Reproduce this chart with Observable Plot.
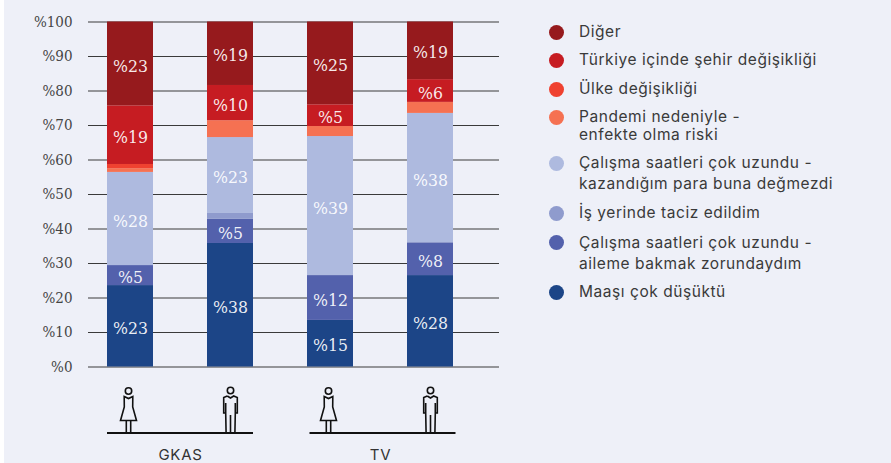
<!DOCTYPE html>
<html lang="tr">
<head>
<meta charset="utf-8">
<script src="https://cdn.jsdelivr.net/npm/d3@7"></script>
<script src="https://cdn.jsdelivr.net/npm/@observablehq/plot@0.6"></script>
<style>
html,body{margin:0;padding:0;background:#fff;overflow:hidden;width:891px;height:463px}
#bg{position:absolute;left:4px;top:0;right:0;bottom:0;background:#eef0f8}
#chart{position:absolute;left:0;top:0}
#legend{position:absolute;left:549px;top:21.5px;font-family:Inter,"Noto Sans",sans-serif;font-size:15.5px;letter-spacing:.55px;color:#3a3a3a}
.item{display:flex;align-items:flex-start;margin-bottom:9px;line-height:20px}
.swatch{flex:none;width:15px;height:15px;border-radius:50%;margin-top:3px;margin-right:15px}
</style>
</head>
<body>
<div id="bg"></div>
<div id="chart"></div>
<div id="legend"></div>
<script>
const bars = ["GKAS Kadın", "GKAS Erkek", "TV Kadın", "TV Erkek"];
const groups = ["GKAS", "TV"];
const women = ["GKAS Kadın", "TV Kadın"];
const men = ["GKAS Erkek", "TV Erkek"];

// stack order: bottom to top
const seriesNames = [
  "Maaşı çok düşüktü",
  "Çalışma saatleri çok uzundu - aileme bakmak zorundaydım",
  "İş yerinde taciz edildim",
  "Çalışma saatleri çok uzundu - kazandığım para buna değmezdi",
  "Pandemi nedeniyle - enfekte olma riski",
  "Ülke değişikliği",
  "Türkiye içinde şehir değişikliği",
  "Diğer"
];
const seriesColors = ["#1c4587", "#5361ac", "#8f9bcd", "#aebadf", "#f57152", "#ef4130", "#c61c22", "#961a1d"];

const maas     = [23.6, 35.8, 13.5, 26.5];
const aile     = [5.8, 7, 13, 9.5];
const taciz    = [0, 1.7, 0, 0];
const kazanc   = [27, 22, 40.3, 37.5];
const pandemi  = [1.1, 4.9, 2.9, 3.2];
const ulke     = [1.2, 0, 0, 0];
const sehir    = [17, 10.2, 6.3, 6.6];
const diger    = [24.3, 18.4, 24, 16.7];

const maasLabels    = ["%23", "%38", "%15", "%28"];
const aileLabels    = ["%5", "%5", "%12", "%8"];
const tacizLabels   = ["", "", "", ""];
const kazancLabels  = ["%28", "%23", "%39", "%38"];
const pandemiLabels = ["", "", "", ""];
const ulkeLabels    = ["", "", "", ""];
const sehirLabels   = ["%19", "%10", "%5", "%6"];
const digerLabels   = ["%23", "%19", "%25", "%19"];

const yTicks = [0, 10, 20, 30, 40, 50, 60, 70, 80, 90, 100];

const seriesValues = [maas, aile, taciz, kazanc, pandemi, ulke, sehir, diger];
const seriesLabels = [maasLabels, aileLabels, tacizLabels, kazancLabels, pandemiLabels, ulkeLabels, sehirLabels, digerLabels];

const rows = seriesNames.flatMap((s, i) =>
  bars.map((b, j) => ({bar: b, series: s, value: seriesValues[i][j], label: seriesLabels[i][j]}))
);

// pictogram symbols for the gender row
const womanSymbol = {
  draw(c) {
    c.moveTo(3.2, -19); c.arc(0, -19, 3.2, 0, 2 * Math.PI);
    c.moveTo(-2.2, 23); c.lineTo(-2.2, 11); c.moveTo(2.2, 23); c.lineTo(2.2, 11);
    c.moveTo(-4.3, -13.5); c.lineTo(0, -11.5); c.lineTo(4.3, -13.5);
    c.lineTo(4.2, -3); c.lineTo(8, 10.5); c.lineTo(-8, 10.5); c.lineTo(-4.2, -3); c.closePath();
  }
};
const manSymbol = {
  draw(c) {
    c.moveTo(3.2, -19.5); c.arc(0, -19.5, 3.2, 0, 2 * Math.PI);
    c.moveTo(-3.2, -14); c.lineTo(0, -12); c.lineTo(3.2, -14);
    c.lineTo(6.8, -12.5); c.lineTo(6.8, 3); c.lineTo(4.8, 3);
    c.lineTo(4.4, 23); c.moveTo(-4.4, 23); c.lineTo(-4.8, 3);
    c.lineTo(-6.8, 3); c.lineTo(-6.8, -12.5); c.lineTo(-3.2, -14);
    c.moveTo(0, 5); c.lineTo(0, 23);
    c.moveTo(-4.8, -7); c.lineTo(-4.8, 3); c.moveTo(4.8, -7); c.lineTo(4.8, 3);
  }
};

const groundLine = (group, dx) => Plot.ruleY([group], {
  x1: d => women[groups.indexOf(d)],
  x2: d => men[groups.indexOf(d)],
  y: () => 0, dy: 66, dx, stroke: "#111", strokeWidth: 1.8
});

const chart = Plot.plot({
  width: 891,
  height: 463,
  marginTop: 21.5,
  marginBottom: 96.5,
  marginLeft: 88,
  marginRight: 392,
  style: {background: "transparent", fontFamily: "'DejaVu Serif Condensed', 'DejaVu Serif', serif", fontStretch: "condensed", overflow: "visible"},
  x: {type: "band", domain: bars, range: [52.8, 508.2], padding: 0.54, axis: null},
  y: {domain: [0, 100], range: [366.5, 21.5], axis: null},
  color: {domain: seriesNames, range: seriesColors},
  marks: [
    Plot.ruleY(yTicks, {stroke: "#3a3a3a", strokeWidth: 1.2}),
    Plot.axisY({ticks: yTicks, tickSize: 0, tickPadding: 16, tickFormat: d => "%" + d, label: null, fontSize: 15, fill: "#444"}),
    Plot.barY(rows, {x: "bar", y: "value", fill: "series", order: seriesNames}),
    Plot.text(rows, Plot.stackY({x: "bar", y: "value", z: "series", order: seriesNames, text: "label", fill: "#fff", fillOpacity: 0.92, fontSize: 17.5, dy: 2})),
    Plot.dot(women, {x: d => d, frameAnchor: "bottom", dy: 43, dx: -2, symbol: womanSymbol, fill: "none", stroke: "#111", strokeWidth: 1.6}),
    Plot.dot(men, {x: d => d, frameAnchor: "bottom", dy: 43, symbol: manSymbol, fill: "none", stroke: "#111", strokeWidth: 1.6}),
    groundLine("GKAS", 0),
    groundLine("TV", 2.5),
    Plot.text(groups, {x: d => women[groups.indexOf(d)], text: d => d, frameAnchor: "bottom", dy: 93, dx: 50, fontFamily: "Inter, 'Noto Sans', sans-serif", fontSize: 15, fill: "#333"})
  ]
});
chart.querySelectorAll("text").forEach(t => { if (t.textContent === "GKAS" || t.textContent === "TV") { t.style.letterSpacing = "0.75px"; t.style.fontStretch = "normal"; } });
document.getElementById("chart").append(chart);

// legend, top to bottom
const legendRows = [
  {name: "Diğer", color: seriesColors[7], gap: 8.6},
  {name: "Türkiye içinde şehir değişikliği", color: seriesColors[6]},
  {name: "Ülke değişikliği", color: seriesColors[5]},
  {name: "Pandemi nedeniyle -<br>enfekte olma riski", color: seriesColors[4], lh: 18, gap: 9.4},
  {name: "Çalışma saatleri çok uzundu -<br>kazandığım para buna değmezdi", color: seriesColors[3], lh: 20.5, gap: 9},
  {name: "İş yerinde taciz edildim", color: seriesColors[2], gap: 8.6},
  {name: "Çalışma saatleri çok uzundu -<br>aileme bakmak zorundaydım", color: seriesColors[1], lh: 21, gap: 8.4},
  {name: "Maaşı çok düşüktü", color: seriesColors[0]}
];
document.getElementById("legend").innerHTML = legendRows.map(r =>
  `<div class="item" style="${r.lh ? `line-height:${r.lh}px;` : ""}${r.gap ? `margin-bottom:${r.gap}px;` : ""}"><span class="swatch" style="background:${r.color};${r.lh === 18 ? "margin-top:2px;" : ""}"></span><span>${r.name}</span></div>`
).join("");
</script>
</body>
</html>
